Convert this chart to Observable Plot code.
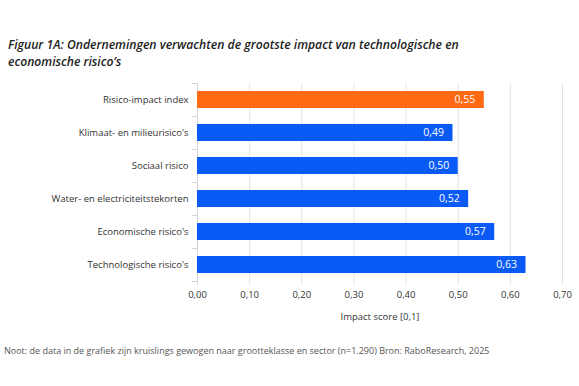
<!DOCTYPE html>
<html>
<head>
<meta charset="utf-8">
<script src="https://cdn.jsdelivr.net/npm/d3@7"></script>
<script src="https://cdn.jsdelivr.net/npm/@observablehq/plot@0.6"></script>
<style>
  body { margin: 0; background: #fff; width: 579px; height: 386px; overflow: hidden; font-family: "Open Sans", sans-serif; }
  #title { box-sizing: border-box; height: 74px; padding: 36px 0 0 8px; font-style: italic; font-weight: 600; font-size: 12.2px; line-height: 17px; color: #222; }
  #note { margin: 15px 0 0 4px; font-size: 9px; color: #555; }
  svg { display: block; }
</style>
</head>
<body>
<div id="title">Figuur 1A: Ondernemingen verwachten de grootste impact van technologische en<br>economische risico’s</div>
<div id="chart"></div>
<div id="note">Noot: de data in de grafiek zijn kruislings gewogen naar grootteklasse en sector (n=1.290) Bron: RaboResearch, 2025</div>
<script>
const categories = ["Risico-impact index", "Klimaat- en milieurisico's", "Sociaal risico", "Water- en electriciteitstekorten", "Economische risico's", "Technologische risico's"];
const values = [0.55, 0.49, 0.50, 0.52, 0.57, 0.63];
const highlight = ["Risico-impact index"];
const xTicks = [0, 0.1, 0.2, 0.3, 0.4, 0.5, 0.6, 0.7];

const data = categories.map((c, i) => ({ category: c, value: values[i] }));
const fmt = d => d.toFixed(2).replace(".", ",");
const step = 33;

const chart = Plot.plot({
  width: 579,
  height: 255,
  marginTop: 9,
  marginBottom: 48,
  marginLeft: 197,
  marginRight: 17,
  style: { fontFamily: "Open Sans, sans-serif", fontSize: "9.5px", color: "#333" },
  x: { domain: [0, 0.7], ticks: xTicks, tickFormat: fmt, label: null, tickSize: 0 },
  y: { domain: categories, paddingInner: 0.5, paddingOuter: 0.25, label: null, tickSize: 0 },
  color: { domain: [true, false], range: ["#ff6a13", "#0a5af5"] },
  marks: [
    Plot.ruleX(xTicks, { stroke: "#e3e3e3", insetBottom: -4 }),
    Plot.ruleX([0], { stroke: "#d4d4d4", insetBottom: -4 }),
    Plot.ruleY(categories, { y: d => d, x1: 0, x2: 0, insetLeft: -5, dy: -step / 2, stroke: "#d4d4d4" }),
    Plot.ruleY(categories.slice(-1), { y: d => d, x1: 0, x2: 0, insetLeft: -5, dy: step / 2, stroke: "#d4d4d4" }),
    Plot.barX(data, { x: "value", y: "category", fill: d => highlight.includes(d.category) }),
    Plot.text(data, { x: "value", y: "category", text: d => fmt(d.value), textAnchor: "end", dx: -9, fill: "white", fontSize: 10.5 }),
    Plot.axisX({ ticks: xTicks, tickFormat: fmt, tickSize: 0, tickPadding: 10, fontSize: 9.5, label: "Impact score [0,1]", labelArrow: "none", labelAnchor: "center", labelOffset: 38 }),
    Plot.axisY({ tickSize: 0, tickPadding: 9, fontSize: 9.5, label: null })
  ]
});
document.getElementById("chart").appendChild(chart);
</script>
</body>
</html>
